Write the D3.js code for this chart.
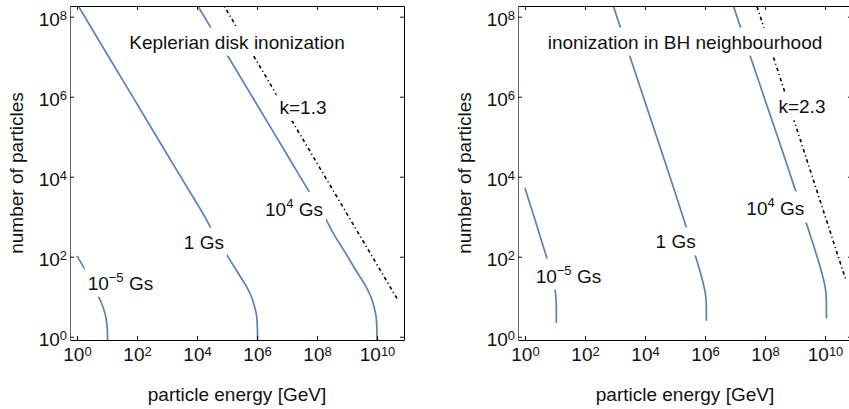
<!DOCTYPE html>
<html>
<head>
<meta charset="utf-8">
<script src="https://cdn.jsdelivr.net/npm/d3@7"></script>
<style>
  body { margin: 0; background: #fff; }
  text { font-family: "Liberation Sans", Arial, Helvetica, sans-serif; fill: #111; }
</style>
</head>
<body>
<svg width="849" height="409"></svg>
<script>
// axis ranges and ticks (particle energy in GeV, number of particles)
const xDomain = [0.585, 7.9e10];
const yDomain = [0.83, 1.85e8];
const xTicks = [1e0, 1e2, 1e4, 1e6, 1e8, 1e10];
const yTicks = [1e0, 1e2, 1e4, 1e6, 1e8];

// Keplerian disk, [energy, number]
const kepMinus5 = [[1.0, 105], [2.0, 43], [3.16, 24], [4.8, 11.5], [6.6, 6.9], [8.5, 3.9],
  [9.9, 2.1], [10.35, 1.2], [10.5, 0.63]];
const kep1 = [[1.0, 2.1e8], [10, 1.17e7], [100, 6.6e5], [1.0e3, 3.7e4], [5.0e3, 5.0e3],
  [1.95e4, 910], [3.6e4, 385], [1.0e5, 110], [2.2e5, 42], [4.2e5, 19.5], [6.5e5, 10],
  [8.3e5, 5.6], [9.8e5, 3.16], [1.02e6, 1.78], [1.05e6, 0.63]];
const kep1e4 = [[6.9e3, 3.2e8], [1.0e5, 1.12e7], [1.0e6, 6.3e5], [1.0e7, 3.55e4], [5.0e7, 4.7e3],
  [1.9e8, 910], [3.5e8, 385], [9.8e8, 110], [2.1e9, 42], [4.0e9, 19.5], [6.2e9, 10],
  [7.9e9, 5.6], [9.3e9, 3.16], [9.8e9, 1.78], [1.0e10, 0.63]];
const kepSlope = [[6.3e4, 2.5e8], [4.6e10, 9.1]]; // k=1.3

// BH neighbourhood
const bhMinus5 = [[1.0, 5.2e3], [1.41, 2.3e3], [2.2, 800], [4.4, 150], [7.0, 46], [8.8, 23.6],
  [9.9, 15.6], [10.5, 11.7], [10.8, 8.8], [11.0, 7.3], [11.04, 5.8], [11.1, 2.2]];
const bh1 = [[690, 3.2e8], [3.16e3, 1.0e7], [1.11e4, 5.9e5], [4.0e4, 3.3e4], [1.0e5, 4.1e3],
  [2.2e5, 646], [4.4e5, 127], [7.0e5, 40], [8.8e5, 20.8], [9.9e5, 13.8], [1.05e6, 10.4],
  [1.08e6, 7.85], [1.10e6, 6.5], [1.104e6, 5.2], [1.11e6, 2.5]];
const bh1e4 = [[6.9e6, 3.2e8], [3.16e7, 1.07e7], [1.11e8, 6.6e5], [4.0e8, 3.9e4], [1.0e9, 4.9e3],
  [2.2e9, 817], [4.4e9, 165], [7.0e9, 53], [8.8e9, 27.8], [9.9e9, 18.6], [1.05e10, 14],
  [1.08e10, 10.6], [1.10e10, 8.8], [1.104e10, 7.0], [1.11e10, 2.9]];
const bhSlope = [[4.2e7, 3.2e8], [5.0e10, 25.4]]; // k=2.3

// curve labels: text parts [base, superscript, rest] and anchor [energy, number]
const kepLabels = [
  {parts: ['10', '\u22125', ' Gs'], at: [28, 22]},
  {parts: ['1 Gs'], at: [1.7e4, 234]},
  {parts: ['10', '4', ' Gs'], at: [1.7e7, 1550]},
  {parts: ['k=1.3'], at: [3.4e7, 5.5e5]}
];
const bhLabels = [
  {parts: ['10', '\u22125', ' Gs'], at: [28, 33]},
  {parts: ['1 Gs'], at: [1.05e5, 237]},
  {parts: ['10', '4', ' Gs'], at: [2.2e8, 1580]},
  {parts: ['k=2.3'], at: [1.7e9, 5.6e5]}
];

const svg = d3.select('svg');
const panelTop = 6;
const pw = 334;
const ph = 334;
const blue = '#5e81b5';

function addParts(t, parts, raise) {
  t.append('tspan').text(parts[0]);
  if (parts.length > 1) {
    t.append('tspan').attr('dy', -raise).style('font-size', '13px').text(parts[1]);
    t.append('tspan').attr('dy', raise).text(parts[2]);
  }
}

function labelWithBox(parent, px, py, parts) {
  const lg = parent.append('g');
  const t = lg.append('text')
    .attr('x', px).attr('y', py).attr('dy', '0.35em')
    .attr('text-anchor', 'middle')
    .style('font-size', '19px');
  addParts(t, parts, 8);
  const b = t.node().getBBox();
  lg.insert('rect', 'text')
    .attr('x', b.x - 3).attr('y', b.y - 4)
    .attr('width', b.width + 6).attr('height', b.height + 7)
    .attr('fill', '#fff');
}

function powLabels(axisG, raise) {
  axisG.selectAll('.tick text').each(function(d) {
    const t = d3.select(this).text(null).style('font-size', '19px');
    addParts(t, ['10', String(Math.round(Math.log10(d))), ''], raise);
  });
}

function drawPanel(x0, p) {
  const g = svg.append('g').attr('transform', `translate(${x0},${panelTop})`);
  const x = d3.scaleLog().domain(xDomain).range([0, pw]);
  const y = d3.scaleLog().domain(yDomain).range([ph, 0]);

  const clipId = 'clip' + x0;
  g.append('clipPath').attr('id', clipId)
    .append('rect').attr('width', pw).attr('height', ph);
  const plot = g.append('g').attr('clip-path', `url(#${clipId})`);

  const line = d3.line().x(d => x(d[0])).y(d => y(d[1])).curve(d3.curveMonotoneY);
  plot.selectAll('path.curve')
    .data(p.curves)
    .join('path')
      .attr('class', 'curve')
      .attr('fill', 'none')
      .attr('stroke', blue)
      .attr('stroke-width', 1.7)
      .attr('d', line);

  plot.append('path')
    .datum(p.slope)
    .attr('fill', 'none')
    .attr('stroke', '#000')
    .attr('stroke-width', 1.6)
    .attr('stroke-dasharray', '3.5,3,1.2,3')
    .attr('d', d3.line().x(d => x(d[0])).y(d => y(d[1])));

  p.labels.forEach(l => labelWithBox(plot, x(l.at[0]), y(l.at[1]), l.parts));
  labelWithBox(plot, pw / 2, 36, [p.title]);

  // frame with inward ticks
  const bottom = g.append('g').attr('transform', `translate(0,${ph})`)
    .call(d3.axisBottom(x).tickValues(xTicks).tickSizeInner(-4).tickSizeOuter(0).tickPadding(8));
  powLabels(bottom, 5.5);
  g.append('g')
    .call(d3.axisTop(x).tickValues(xTicks).tickSizeInner(-4).tickSizeOuter(0).tickFormat(''));
  const left = g.append('g')
    .call(d3.axisLeft(y).tickValues(yTicks).tickSizeInner(-4).tickSizeOuter(0).tickPadding(3));
  left.selectAll('.tick text').attr('dy', '0.45em');
  powLabels(left, 5.5);
  left.select('.domain').attr('stroke', '#666');
  g.append('g').attr('transform', `translate(${pw},0)`)
    .call(d3.axisRight(y).tickValues(yTicks).tickSizeInner(-4).tickSizeOuter(0).tickFormat(''));

  g.selectAll('.domain').attr('stroke-width', 1);
  g.selectAll('.tick line').attr('stroke', '#111');

  g.append('text')
    .attr('x', pw / 2).attr('y', ph + 60.7)
    .attr('text-anchor', 'middle')
    .style('font-size', '19px')
    .text('particle energy [GeV]');
  g.append('text')
    .attr('transform', `translate(-47.5,${ph / 2}) rotate(-90)`)
    .attr('text-anchor', 'middle')
    .style('font-size', '19px')
    .text('number of particles');
}

drawPanel(70, {
  title: 'Keplerian disk inonization',
  curves: [kepMinus5, kep1, kep1e4],
  slope: kepSlope,
  labels: kepLabels
});
drawPanel(518, {
  title: 'inonization in BH neighbourhood',
  curves: [bhMinus5, bh1, bh1e4],
  slope: bhSlope,
  labels: bhLabels
});
</script>
</body>
</html>
